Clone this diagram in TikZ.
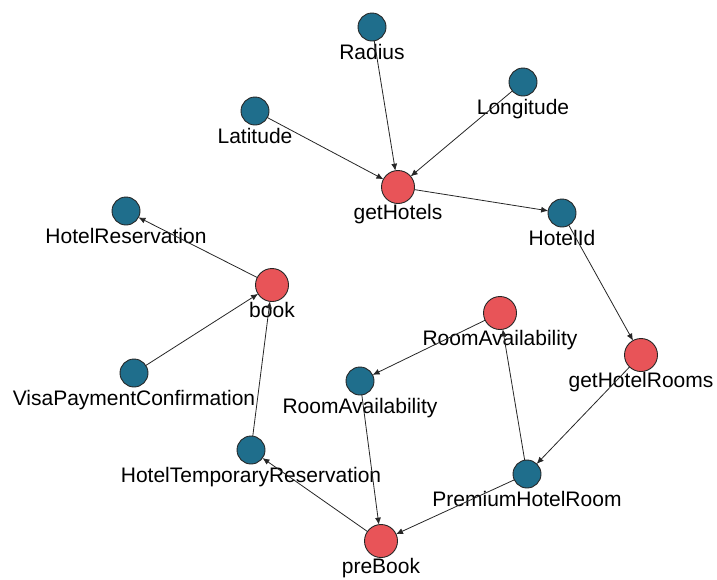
\documentclass[tikz,border=0pt]{standalone}
\usepackage{fontspec}
\setmainfont{Liberation Sans}
\usetikzlibrary{arrows.meta}
\definecolor{opred}{RGB}{232,84,88}
\definecolor{datablue}{RGB}{31,110,140}

\begin{document}
\begin{tikzpicture}[x=1pt,y=-1pt,
        lbl/.style={font=\fontsize{21}{24}\selectfont,anchor=base,inner sep=0pt},
        datanode/.style={circle,draw=black!85,line width=0.9pt,fill=datablue,minimum size=28pt,inner sep=0pt,outer sep=0pt,label={[lbl,label distance=18pt]below:#1}},
        opnode/.style={circle,draw=black!85,line width=0.9pt,fill=opred,minimum size=33pt,inner sep=0pt,outer sep=0pt,label={[lbl,label distance=15.5pt]below:#1}},
        link/.style={black!85,line width=0.8pt,-{Latex[length=7pt,width=6pt]}}]
                \useasboundingbox (0,0) rectangle (717,579);
                % Operations
                \node[opnode=getHotels] (gethotels) at (398,187) {};
                \node[opnode=getHotelRooms] (gethotelrooms) at (641,355) {};
                \node[opnode=RoomAvailability] (roomavailop) at (500,313) {};
                \node[opnode=book] (book) at (272,285) {};
                \node[opnode=preBook] (prebook) at (381,541) {};
                % Data
                \node[datanode=Radius] (radius) at (372,27) {};
                \node[datanode=Longitude] (longitude) at (523,82) {};
                \node[datanode=Latitude] (latitude) at (255,111) {};
                \node[datanode=HotelId] (hotelid) at (562,213) {};
                \node[datanode=HotelReservation] (hotelres) at (126,211) {};
                \node[datanode=RoomAvailability] (roomavail) at (360,381) {};
                \node[datanode=VisaPaymentConfirmation] (visapay) at (134,373) {};
                \node[datanode=HotelTemporaryReservation] (hoteltempres) at (251,450) {};
                \node[datanode=PremiumHotelRoom] (premiumroom) at (527,474) {};
                % Links
                \draw[link] (radius) -- (gethotels);
                \draw[link] (latitude) -- (gethotels);
                \draw[link] (longitude) -- (gethotels);
                \draw[link] (gethotels) -- (hotelid);
                \draw[link] (hotelid) -- (gethotelrooms);
                \draw[link] (gethotelrooms) -- (premiumroom);
                \draw[link] (premiumroom) -- (prebook);
                \draw[link] (premiumroom) -- (roomavailop);
                \draw[link] (roomavailop) -- (roomavail);
                \draw[link] (roomavail) -- (prebook);
                \draw[link] (prebook) -- (hoteltempres);
                \draw[link] (hoteltempres) -- (book);
                \draw[link] (visapay) -- (book);
                \draw[link] (book) -- (hotelres);
\end{tikzpicture}
\end{document}
